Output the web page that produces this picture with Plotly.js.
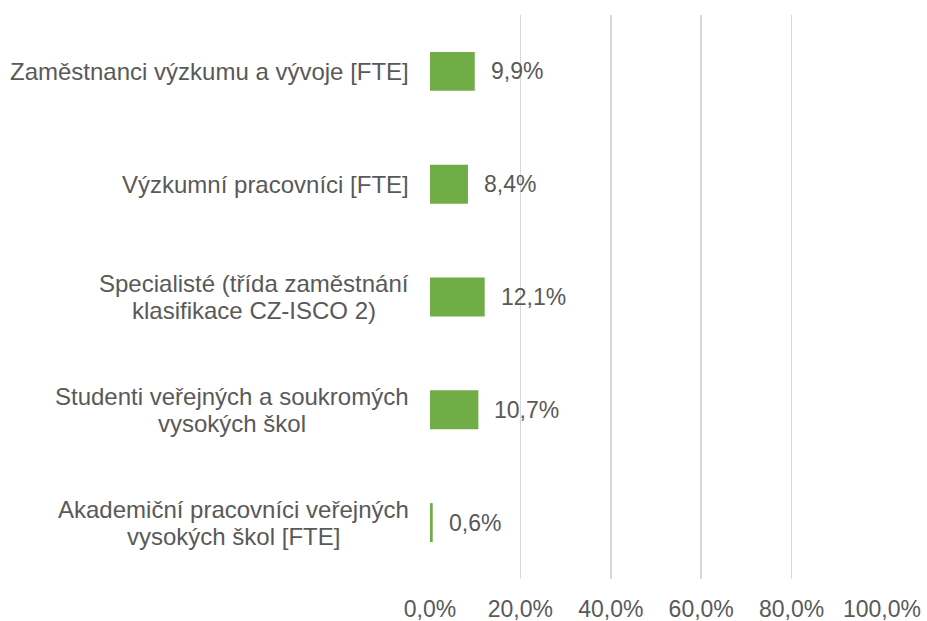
<!DOCTYPE html>
<html>
<head>
<meta charset="utf-8">
<script src="https://cdn.plot.ly/plotly-3.0.1.min.js"></script>
<style>html,body{margin:0;padding:0;background:#fff;}#chart{width:927px;height:621px;}</style>
</head>
<body>
<div id="chart"></div>
<script>
const categories = [
  "Zaměstnanci výzkumu a vývoje [FTE]",
  "Výzkumní pracovníci [FTE]",
  "Specialisté (třída zaměstnání<br>klasifikace CZ-ISCO 2)",
  "Studenti veřejných a soukromých<br>vysokých škol",
  "Akademiční pracovníci veřejných<br>vysokých škol [FTE]"
];
const values = [9.9, 8.4, 12.1, 10.7, 0.6];
const valueLabels = ["9,9%", "8,4%", "12,1%", "10,7%", "0,6%"];
const tickVals = [0, 20, 40, 60, 80, 100];
const tickText = ["0,0%", "20,0%", "40,0%", "60,0%", "80,0%", "100,0%"];

const family = "Liberation Sans, Arial, sans-serif";
const font = {family: family, size: 23, color: "#595959"};
const catFont = {family: family, size: 24, color: "#595959"};

const catIdx = categories.map((c, i) => i);

const trace = {
  type: "bar",
  orientation: "h",
  x: values,
  y: catIdx,
  marker: {color: "#70AD47"},
  hoverinfo: "none"
};

const ctx = document.createElement("canvas").getContext("2d");
ctx.font = catFont.size + "px 'Liberation Sans', Arial, sans-serif";

const lineGap = 27;
const annotations = [];
categories.forEach((c, i) => {
  const lines = c.split("<br>");
  const n = lines.length;
  const maxW = Math.max(...lines.map(l => ctx.measureText(l).width));
  lines.forEach((ln, k) => {
    annotations.push({
      xref: "paper", yref: "y", x: 0, y: i,
      xanchor: "center", yanchor: "middle", xshift: -21 - maxW / 2,
      yshift: ((n - 1) / 2 - k) * lineGap,
      align: "center", text: ln, showarrow: false, font: catFont
    });
  });
  annotations.push({
    xref: "x", yref: "y", x: values[i], y: i,
    xanchor: "left", yanchor: "middle", xshift: 14,
    text: valueLabels[i], showarrow: false, font: font
  });
});

const layout = {
  width: 927, height: 621,
  margin: {l: 430, r: 45, t: 15, b: 42},
  paper_bgcolor: "#fff", plot_bgcolor: "#fff",
  showlegend: false,
  bargap: 0.655,
  font: font,
  xaxis: {
    range: [0, 100], tickvals: tickVals, ticktext: tickText,
    showgrid: true, gridcolor: "#d9d9d9", gridwidth: 1.5,
    zeroline: false, showline: false,
    ticks: "outside", ticklen: 9, tickcolor: "rgba(0,0,0,0)",
    tickfont: font, fixedrange: true
  },
  yaxis: {
    range: [4.5, -0.5], showticklabels: false, showgrid: false,
    zeroline: false, showline: false, ticks: "", fixedrange: true
  },
  annotations: annotations
};

Plotly.newPlot("chart", [trace], layout, {displayModeBar: false, staticPlot: true});
</script>
</body>
</html>
